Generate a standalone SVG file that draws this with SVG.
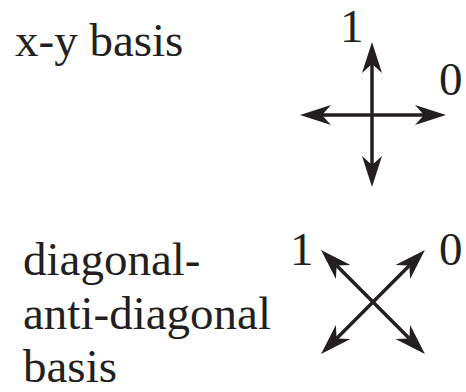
<svg xmlns="http://www.w3.org/2000/svg" width="466" height="392" viewBox="0 0 466 392">
<style>
  text { font-family: "Liberation Serif", "DejaVu Serif", serif; font-size: 47px; fill: #231f20; }
  .ax { stroke: #231f20; stroke-width: 3.5; fill: none; marker-start: url(#head); marker-end: url(#head); }
</style>
<defs>
  <marker id="head" markerUnits="userSpaceOnUse" viewBox="0 -11 32 22" markerWidth="32" markerHeight="22" refX="9" refY="0" orient="auto-start-reverse">
    <path d="M0,-10 L31,0 L0,10 L9,0 Z" fill="#231f20"/>
  </marker>
</defs>
<rect width="466" height="392" fill="#ffffff"/>
<g id="labels">
  <text x="15" y="56" font-family="Liberation Serif, serif">x-y basis</text>
  <text x="23" y="275" font-family="Liberation Serif, serif">diagonal-</text>
  <text x="23" y="329" font-family="Liberation Serif, serif">anti-diagonal</text>
  <text x="23" y="382" font-family="Liberation Serif, serif">basis</text>
</g>
<g id="xy-basis">
  <text x="340" y="42">1</text>
  <text x="439" y="95">0</text>
</g>
<g id="diag-basis">
  <text x="290" y="265">1</text>
  <text x="439" y="265">0</text>
</g>
<g id="connectors">
  <line class="ax" x1="372" y1="64" x2="372" y2="165"/>
  <line class="ax" x1="322" y1="115" x2="424" y2="115"/>
  <line class="ax" x1="336.6" y1="265.6" x2="409.4" y2="338.4"/>
  <line class="ax" x1="409.4" y1="265.6" x2="336.6" y2="338.4"/>
</g>
</svg>
